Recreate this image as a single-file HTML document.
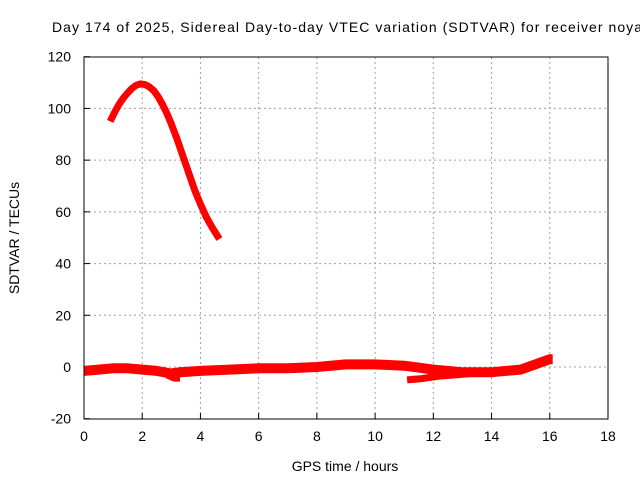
<!DOCTYPE html>
<html><head><meta charset="utf-8"><style>
body{margin:0;background:#fff}
svg{display:block;font-family:"Liberation Sans",sans-serif}
</style></head><body>
<svg id="chart" width="640" height="480" viewBox="0 0 640 480">
<rect width="640" height="480" fill="#fff"/>
<text x="52" y="32" font-size="14" fill="#000" textLength="590" lengthAdjust="spacing">Day 174 of 2025, Sidereal Day-to-day VTEC variation (SDTVAR) for receiver noya</text>
<g id="grid"></g>
<g id="axes"></g>
<g id="series"></g>
<rect x="84" y="57" width="524" height="362" fill="none" stroke="#000" stroke-width="1"/>
<text x="345" y="471" font-size="14" text-anchor="middle">GPS time / hours</text>
<text transform="translate(19,238) rotate(-90)" font-size="14" text-anchor="middle">SDTVAR / TECUs</text>
</svg>
<script>
const xTicks=[0,2,4,6,8,10,12,14,16,18];
const yTicks=[-20,0,20,40,60,80,100,120];
const arcHours=[0.9,1.05,1.2,1.35,1.5,1.65,1.8,1.95,2.1,2.25,2.4,2.55,2.7,2.85,3.0,3.2,3.4,3.6,3.8,4.0,4.2,4.4,4.65];
const arcValues=[95,98.5,101.5,104,106,107.8,109,109.5,109.2,108.3,106.8,104.5,101.5,98,94,88,81.5,75,68.5,63,58,54,49.5];
const baseHours=[0,0.5,1,1.5,2,2.5,3,3.3,4,5,6,7,8,9,10,11,12,13,14,15,15.5,16,16.1];
const baseValues=[-1.5,-1,-0.5,-0.5,-1,-1.5,-2.5,-2,-1.5,-1,-0.5,-0.5,0,1,1,0.5,-1,-2,-2,-1,1,3,3];
const dipHours=[2.6,2.9,3.1,3.3];
const dipValues=[-1.5,-3.5,-4.5,-4.5];
const lateHours=[11.1,11.6,12.2,12.8,13.3];
const lateValues=[-5,-4.5,-3.5,-3,-2.5];
const ns="http://www.w3.org/2000/svg";
const X=h=>84+h*(524/18);
const Y=v=>367-v*(362/140);
const grid=document.getElementById('grid'),axes=document.getElementById('axes'),ser=document.getElementById('series');
function mk(tag,attrs,parent){const e=document.createElementNS(ns,tag);for(const k in attrs)e.setAttribute(k,attrs[k]);parent.appendChild(e);return e;}
xTicks.forEach(t=>{
  if(t>0&&t<18){const g=mk('line',{x1:X(t),x2:X(t),y1:57,y2:419,stroke:'#a0a0a0','stroke-dasharray':'2,3'},grid);
  
  }
  const tk=mk('line',{x1:X(t),x2:X(t),y1:419,y2:413,stroke:'#000'},axes);
  
  
  const l=mk('text',{x:X(t),y:441,'font-size':14,'text-anchor':'middle'},axes);l.textContent=t;
  
  
});
yTicks.forEach(t=>{
  if(t>-20&&t<120){const g=mk('line',{x1:84,x2:608,y1:Y(t),y2:Y(t),stroke:'#a0a0a0','stroke-dasharray':'2,3'},grid);
  
  }
  const tk=mk('line',{x1:84,x2:90,y1:Y(t),y2:Y(t),stroke:'#000'},axes);
  
  
  const l=mk('text',{x:71,y:Y(t)+5,'font-size':14,'text-anchor':'end'},axes);l.textContent=t;
  
  
});
function line(hs,vs,w,name){
  const d=hs.map((h,i)=>(i?'L':'M')+X(h).toFixed(1)+','+Y(vs[i]).toFixed(1)).join(' ');
  const p=mk('path',{d:d,fill:'none',stroke:'#ff0000','stroke-width':w,'stroke-linejoin':'round','stroke-linecap':'butt'},ser);
  
  
}
line(arcHours,arcValues,7,'sdtvar-arc-series');
line(baseHours,baseValues,10,'sdtvar-baseline-series');
line(dipHours,dipValues,6,'sdtvar-dip-series');
line(lateHours,lateValues,7,'sdtvar-late-series');
</script>
</body></html>
